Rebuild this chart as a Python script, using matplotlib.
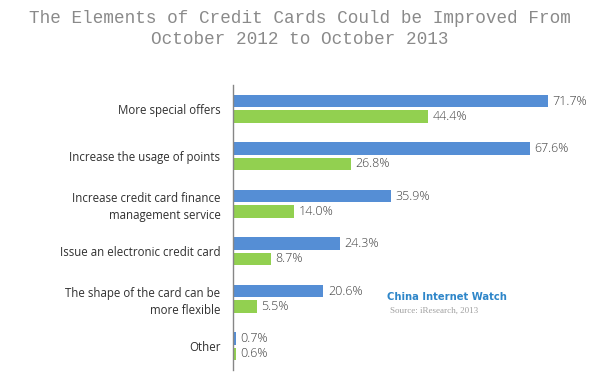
import matplotlib
matplotlib.use("Agg")
import matplotlib.pyplot as plt
import numpy as np

categories = ["More special offers", "Increase the usage of points",
              "Increase credit card finance\nmanagement service",
              "Issue an electronic credit card",
              "The shape of the card can be\nmore flexible", "Other"]
series_2013 = [71.7, 67.6, 35.9, 24.3, 20.6, 0.7]
series_2012 = [44.4, 26.8, 14.0, 8.7, 5.5, 0.6]

blue = "#558ED5"
green = "#92D050"

fig = plt.figure(figsize=(6, 3.81), dpi=100)
ax = fig.add_axes([233/600, 11/381, 350/600, 285/381])

y = np.arange(len(categories))
off = 0.163
h = 0.263
ax.barh(y - off, series_2013, height=h, color=blue)
ax.barh(y + off, series_2012, height=h, color=green)

for yi, v in zip(y, series_2013):
    ax.text(v + 1.0, yi - off, f"{v:.1f}%", va="center", ha="left",
            fontsize=9, color="#404040", family="Open Sans", fontweight="light")
for yi, v in zip(y, series_2012):
    ax.text(v + 1.0, yi + off, f"{v:.1f}%", va="center", ha="left",
            fontsize=9, color="#404040", family="Open Sans", fontweight="light")

ax.set_ylim(len(categories) - 0.5, -0.5)
ax.set_xlim(0, 350/4.39)
ax.set_yticks(y)
ax.set_yticklabels(categories, fontsize=8.3, color="#303030", family="Open Sans",
                   linespacing=1.35)
ax.tick_params(axis="y", length=0, pad=9)
ax.set_xticks([])
for s in ["top", "right", "bottom"]:
    ax.spines[s].set_visible(False)
ax.spines["left"].set_color("#868686")
ax.spines["left"].set_linewidth(1.0)

fig.text(0.5, 1 - 29/381, "The Elements of Credit Cards Could be Improved From\nOctober 2012 to October 2013",
         ha="center", va="center", fontsize=12.7, family="Liberation Mono",
         color="#8a8a8a", linespacing=1.35)

fig.text(387/600, 1 - 297/381, "China Internet Watch", ha="left", va="center",
         fontsize=8, fontweight="bold", color="#2e86c9", family="DejaVu Sans",
         fontstretch="condensed")
fig.text(390/600, 1 - 311/381, "Source: iResearch, 2013", ha="left", va="center",
         fontsize=6.5, color="#a0a0a0", family="Liberation Serif")

fig.savefig("out.png", dpi=100)
